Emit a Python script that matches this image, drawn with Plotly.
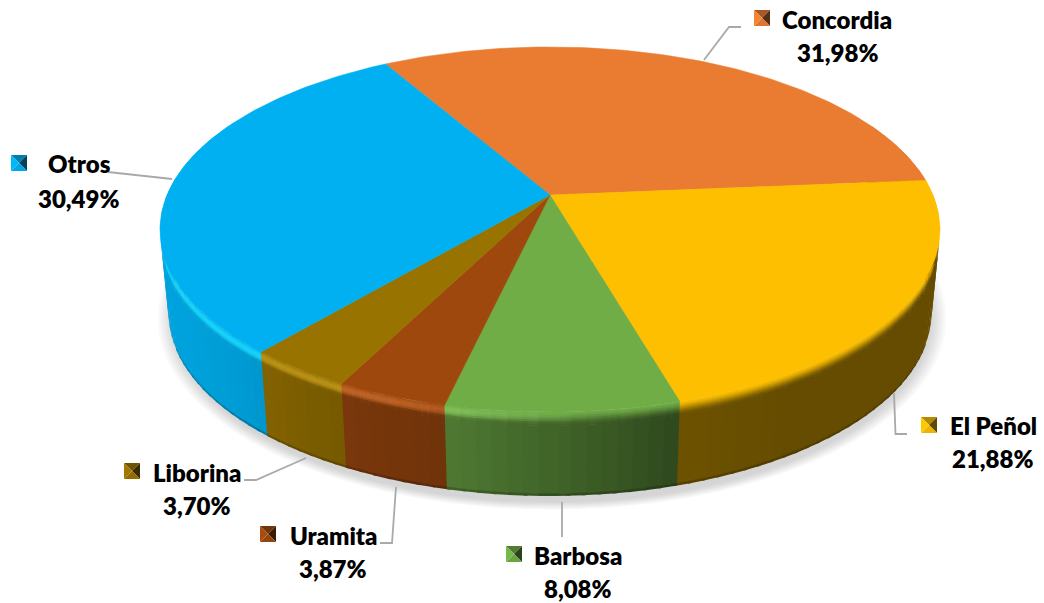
import math
import plotly.graph_objects as go

# ---- data ----
categories = ["Concordia", "El Peñol", "Barbosa", "Uramita", "Liborina", "Otros"]
values = [31.98, 21.88, 8.08, 3.87, 3.70, 30.49]
value_labels = ["31,98%", "21,88%", "8,08%", "3,87%", "3,70%", "30,49%"]
colors = ["#EA7C31", "#FDBF00", "#70AD47", "#9E480E", "#997300", "#00B0F0"]

# ---- geometry of the tilted disc, in page pixels ----
W, H = 1044, 603
CX, CY = 550, 195
A, B, K = 383, 176, 0.189
START = -30
DEPTH = 84
BEVEL = 14


def rim(theta, t=0.0, scale=1.0):
    r = math.radians(theta)
    u, v = scale * math.sin(r), -scale * math.cos(r)
    w = 1 - K * v
    x = A * u / w
    y = B * v / w
    return CX + x * (1 - 0.022 * t / DEPTH), CY + y + t


def hex2rgb(c):
    return tuple(int(c[i:i + 2], 16) for i in (1, 3, 5))


def rgb(c):
    return "rgb(%d,%d,%d)" % tuple(max(0, min(255, round(x))) for x in c)


def mix(a, b, s):
    return tuple(a[i] + (b[i] - a[i]) * s for i in range(3))


SHADE = [(60, .40), (150, .40), (165, .43), (180, .58), (195, .72), (205, .76), (225, .88), (240, .92), (300, .92)]


def shade(theta):
    for (a, fa), (b, fb) in zip(SHADE, SHADE[1:]):
        if a <= theta <= b:
            return fa + (fb - fa) * (theta - a) / (b - a)
    return SHADE[-1][1]


def band_color(base, theta, t):
    top = hex2rgb(base)
    side = tuple(c * shade(theta) for c in top)
    if t >= BEVEL:
        return side
    s = t / BEVEL
    c = mix(top, side, s * s * (3 - 2 * s))
    lit = max(0.0, min(1.0, (theta - 175) / 25))
    hl = 0.24 * lit * math.sin(math.pi * min(1, s * 1.25))
    # a saturated highlight: lift the channels, keep the hue
    lifted = tuple(min(255, x * 1.12 + 30) for x in top)
    return mix(c, lifted, min(1, hl * 3))


fig = go.Figure()


def poly(xs, ys, fill, line=None, lw=0.0):
    fig.add_trace(go.Scatter(
        x=list(xs) + [xs[0]], y=list(ys) + [ys[0]], mode="lines", fill="toself",
        fillcolor=fill, line=dict(color=line or fill, width=lw),
        hoverinfo="skip", showlegend=False))


# soft drop shadow
for i in range(9):
    grow = 1.035 - i * 0.005
    pts = [rim(a, DEPTH + 5) for a in range(0, 360, 3)]
    xs = [CX + (p[0] - CX) * grow + 2 for p in pts]
    cy2 = CY + DEPTH + 38
    ys = [cy2 + (p[1] - cy2) * (grow + 0.012) for p in pts]
    poly(xs, ys, "rgba(110,110,125,0.035)")

# slice angles
edges = []
a = START
for v in values:
    edges.append((a, a + v * 3.6))
    a += v * 3.6

# side wall, painted back to front; each quad runs on under the one painted after it
T_EDGES = [0, 2, 4, 6, 8, 10, 12, 14, DEPTH - 2, DEPTH]
segs = []
for (a0, a1), col in zip(edges, colors):
    for lo, hi in ((a0, a1), (a0 + 360, a1 + 360), (a0 - 360, a1 - 360)):
        lo2, hi2 = max(lo, 65), min(hi, 295)
        if hi2 <= lo2:
            continue
        n = max(1, math.ceil((hi2 - lo2) / 2))
        for j in range(n):
            segs.append((lo2 + (hi2 - lo2) * j / n, lo2 + (hi2 - lo2) * (j + 1) / n, col))
segs.sort(key=lambda s: -abs((s[0] + s[1]) / 2 - 180))
for t0, t1, col in segs:
    mid = (t0 + t1) / 2
    if mid < 180:
        ext0, ext1 = t0, t1 + 0.5
    else:
        ext0, ext1 = t0 - 0.5, t1
    for b0, b1 in zip(T_EDGES, T_EDGES[1:]):
        c = band_color(col, mid, (b0 + b1) / 2)
        if b0 >= DEPTH - 2:
            c = tuple(x * 0.8 for x in c)
        top_b = b0 - 0.6 if b0 > 0 else b0
        p = [rim(ext0, top_b), rim(ext1, top_b), rim(ext1, b1), rim(ext0, b1)]
        poly([q[0] for q in p], [q[1] for q in p], rgb(c))

# top face
for (a0, a1), col in zip(edges, colors):
    n = max(2, math.ceil(a1 - a0))
    pts = [(CX, CY)] + [rim(a0 + (a1 - a0) * j / n) for j in range(n + 1)]
    poly([q[0] for q in pts], [q[1] for q in pts], col, lw=0.5)

# leader lines
LEADERS = {
    "Concordia": [(704, 60), (729, 27), (741, 27)],
    "El Peñol": [(894, 393), (895.5, 434), (907, 434)],
    "Barbosa": [(562, 502), (562, 537)],
    "Uramita": [(396, 487), (392, 543), (380, 543)],
    "Liborina": [(306, 458), (256, 480), (244, 480)],
    "Otros": [(172, 179), (108, 172)],
}
for k, pts in LEADERS.items():
    fig.add_trace(go.Scatter(x=[p[0] for p in pts], y=[p[1] for p in pts], mode="lines",
                             line=dict(color="#A9A9A9", width=1.8), hoverinfo="skip", showlegend=False))

# labels: key square, name centre, value centre
LABELS = {
    "Concordia": ((754, 10), (837, 19), (838, 52)),
    "El Peñol": ((921, 417), (993, 425), (993, 458)),
    "Barbosa": ((506, 546), (578, 555), (578, 588)),
    "Uramita": ((260, 526), (333, 535), (333, 568)),
    "Liborina": ((124, 463), (197, 472), (197, 505)),
    "Otros": ((11, 155), (79, 163), (79, 198)),
}
KEY = 16
FONT = dict(family="Lato, Carlito, sans-serif", size=24, color="#000000", weight=800)
for name, label, col in zip(categories, value_labels, colors):
    (kx, ky), np_, vp = LABELS[name]
    base = hex2rgb(col)
    mx, my = kx + KEY / 2, ky + KEY / 2
    corners = [(kx, ky), (kx + KEY, ky), (kx + KEY, ky + KEY), (kx, ky + KEY)]
    factors = [0.72, 0.38, 0.95, 1.05]  # top, right, bottom, left
    for i, f in enumerate(factors):
        p = [corners[i], corners[(i + 1) % 4], (mx, my)]
        poly([q[0] for q in p], [q[1] for q in p], rgb(tuple(c * f for c in base)))
    fig.add_annotation(x=np_[0], y=np_[1], text=name, showarrow=False, font=FONT)
    fig.add_annotation(x=vp[0], y=vp[1], text=label, showarrow=False, font=FONT)

fig.update_layout(
    width=W, height=H, margin=dict(l=0, r=0, t=0, b=0),
    paper_bgcolor="white", plot_bgcolor="white", showlegend=False,
    xaxis=dict(range=[0, W], visible=False, fixedrange=True),
    yaxis=dict(range=[H, 0], visible=False, fixedrange=True),
)
fig.write_html("out.html", config=dict(displayModeBar=False),
               post_script="document.body.style.margin='0';document.body.style.overflow='hidden';")
